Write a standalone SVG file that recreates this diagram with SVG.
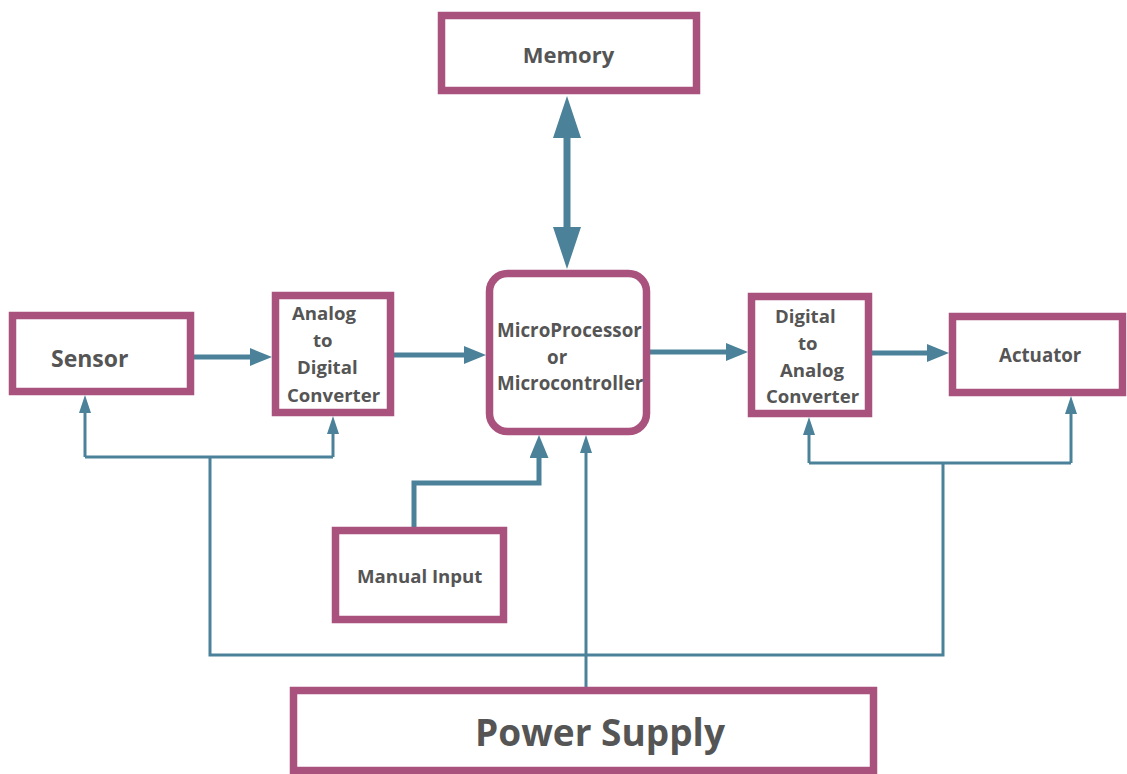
<svg xmlns="http://www.w3.org/2000/svg" width="1127" height="774" viewBox="0 0 1127 774">
<style>
.box{fill:#fff;stroke:#A9527D;stroke-width:7.5}
.t{font-family:"Open Sans","Liberation Sans",sans-serif;font-weight:700;fill:#555}
.c{fill:none;stroke:#4B8299}
.thick{stroke-width:7}
.med{stroke-width:5}
.thin{stroke-width:3}
</style>
<defs>
<marker id="aBig" markerUnits="userSpaceOnUse" markerWidth="42" markerHeight="28" refX="0" refY="14" orient="auto-start-reverse" viewBox="0 0 42 28"><path d="M0,0 L42,14 L0,28 z" fill="#4B8299"/></marker>
<marker id="aMed" markerUnits="userSpaceOnUse" markerWidth="22" markerHeight="18" refX="0" refY="9" orient="auto" viewBox="0 0 22 18"><path d="M0,0 L22,9 L0,18 z" fill="#4B8299"/></marker>
<marker id="aMan" markerUnits="userSpaceOnUse" markerWidth="23" markerHeight="19" refX="0" refY="9.5" orient="auto" viewBox="0 0 23 19"><path d="M0,0 L23,9.5 L0,19 z" fill="#4B8299"/></marker>
<marker id="aSm" markerUnits="userSpaceOnUse" markerWidth="18" markerHeight="12" refX="0" refY="6" orient="auto" viewBox="0 0 18 12"><path d="M0,0 L18,6 L0,12 z" fill="#4B8299"/></marker>
</defs>
<rect width="1127" height="774" fill="#fff"/>
<g id="connectors">
<line class="c thick" x1="567" y1="138" x2="567" y2="227" marker-start="url(#aBig)" marker-end="url(#aBig)"/>
<line class="c med" x1="194" y1="357" x2="250" y2="357" marker-end="url(#aMed)"/>
<line class="c med" x1="394" y1="355" x2="464" y2="355" marker-end="url(#aMed)"/>
<line class="c med" x1="650" y1="352" x2="726" y2="352" marker-end="url(#aMed)"/>
<line class="c med" x1="872" y1="353" x2="927" y2="353" marker-end="url(#aMed)"/>
<polyline class="c med" points="414,527 414,483 539,483 539,458" marker-end="url(#aMan)"/>
<polyline class="c thin" points="85,457 85,413" marker-end="url(#aSm)"/>
<polyline class="c thin" points="333,457 333,434" marker-end="url(#aSm)"/>
<polyline class="c thin" points="85,457 333,457"/>
<polyline class="c thin" points="809,463 809,435" marker-end="url(#aSm)"/>
<polyline class="c thin" points="1071,463 1071,414" marker-end="url(#aSm)"/>
<polyline class="c thin" points="809,463 1071,463"/>
<polyline class="c thin" points="210,457 210,655 943,655 943,463"/>
<polyline class="c thin" points="586,687 586,453" marker-end="url(#aSm)"/>
</g>
<g id="memory"><rect class="box" x="441.5" y="15.5" width="255" height="75"/><text class="t" x="568.5" y="63" font-size="22" text-anchor="middle">Memory</text></g>
<g id="micro"><rect class="box" x="489.5" y="273.5" width="157" height="158" rx="18"/>
<text class="t" font-size="18.8"><tspan x="497" y="337">MicroProcessor</tspan><tspan x="547" y="364">or</tspan><tspan x="497" y="390">Microcontroller</tspan></text></g>
<g id="sensor"><rect class="box" x="12.5" y="315.5" width="178" height="76"/><text class="t" x="51" y="367" font-size="23">Sensor</text></g>
<g id="adc"><rect class="box" x="275.5" y="295.5" width="115" height="117"/>
<text class="t" font-size="18.6"><tspan x="292" y="320">Analog</tspan><tspan x="313" y="347">to</tspan><tspan x="297" y="374">Digital</tspan><tspan x="287" y="402">Converter</tspan></text></g>
<g id="dac"><rect class="box" x="751.5" y="296.5" width="117" height="117"/>
<text class="t" font-size="18.6"><tspan x="775" y="323">Digital</tspan><tspan x="798" y="350">to</tspan><tspan x="780" y="377">Analog</tspan><tspan x="766" y="403">Converter</tspan></text></g>
<g id="actuator"><rect class="box" x="952.5" y="316.5" width="170" height="76"/><text class="t" x="999" y="362" font-size="18.7">Actuator</text></g>
<g id="manual"><rect class="box" x="335.5" y="530.5" width="168" height="89"/><text class="t" x="357" y="583" font-size="18.6">Manual Input</text></g>
<g id="power"><rect class="box" x="293.5" y="690.5" width="580" height="80"/><text class="t" x="475" y="746" font-size="37">Power Supply</text></g>
</svg>
